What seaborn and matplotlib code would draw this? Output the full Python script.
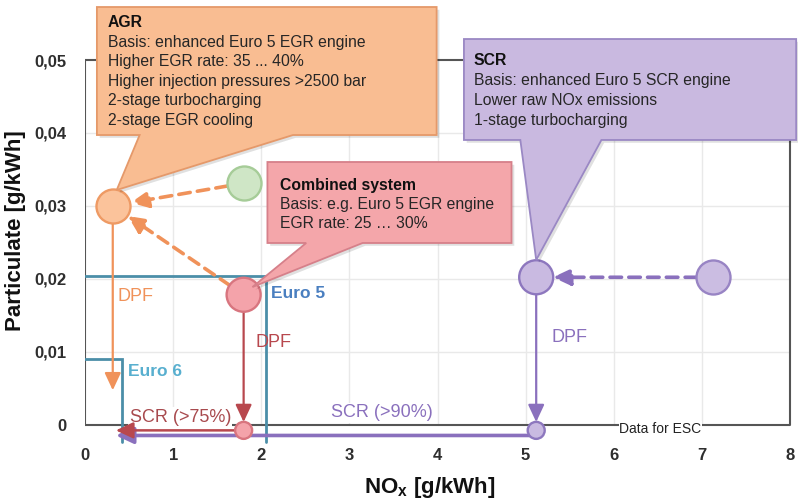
import matplotlib
matplotlib.use("Agg")
import matplotlib.pyplot as plt
import matplotlib.transforms as mtransforms
from matplotlib.patches import Polygon
import pandas as pd
import seaborn as sns

# Operating points: NOx and particulate emissions in g/kWh (ESC)
stage = ["Euro 5 EGR", "AGR", "Combined system", "Combined + DPF + SCR",
         "Euro 5 SCR", "SCR", "SCR + DPF"]
group = ["egr_base", "agr", "combined", "combined", "scr_base", "scr", "scr"]
nox = [1.80, 0.315, 1.80, 1.80, 7.13, 5.12, 5.12]
pm = [0.0331, 0.0300, 0.0178, -0.0008, 0.0202, 0.0202, -0.0008]
dot = ["large", "large", "large", "small", "large", "large", "small"]

# Emission limits
limit_names = ["Euro 5", "Euro 6"]
limit_nox = [2.05, 0.42]
limit_pm = [0.0204, 0.0090]

# Aftertreatment end points
agr_dpf_pm = 0.0047
scr_target_nox = 0.35
scr_path_pm = [-0.0008, -0.0015]   # SCR (>75%) and SCR (>90%) paths

# Axis ticks
x_ticks = [0, 1, 2, 3, 4, 5, 6, 7, 8]
y_ticks = [0, 0.01, 0.02, 0.03, 0.04, 0.05]
y_tick_labels = ["0", "0,01", "0,02", "0,03", "0,04", "0,05"]

fill = {"egr_base": "#cfe6c6", "agr": "#fbc39b", "combined": "#f4a3aa",
        "scr_base": "#cbbde2", "scr": "#c9bae1"}
edge = {"egr_base": "#a6cc98", "agr": "#ee9a64", "combined": "#d8757f",
        "scr_base": "#9884c4", "scr": "#8d77be"}
c_orange = "#f0925a"
c_red = "#b8484e"
c_purple = "#8a70bd"
c_limit = "#4b8ea8"

sns.set_theme(style="white")
plt.rcParams["font.family"] = ["Liberation Sans", "DejaVu Sans"]
plt.rcParams["mathtext.fontset"] = "custom"
plt.rcParams["mathtext.bf"] = "Liberation Sans:bold"
plt.rcParams["mathtext.rm"] = "Liberation Sans"

df = pd.DataFrame({"stage": stage, "group": group, "nox": nox, "pm": pm, "dot": dot})

fig = plt.figure(figsize=(7.98, 5.01), dpi=100)
ax = fig.add_axes([85 / 798, 57 / 501, 705 / 798, 444 / 501])

for g, sub in df.groupby("group", sort=False):
    sns.scatterplot(data=sub, x="nox", y="pm", size="dot",
                    sizes={"large": 600, "small": 150},
                    color=fill[g], edgecolor=edge[g], linewidth=1.7,
                    legend=False, ax=ax, zorder=4)

ax.set_xlim(0, 8)
ax.set_ylim(-0.00267, 0.05823)
for sp in ax.spines.values():
    sp.set_visible(False)
ax.set_xlabel("")
ax.set_ylabel("")
ax.set_xticks(x_ticks)
ax.set_yticks(y_ticks)
ax.set_yticklabels(y_tick_labels)
ax.tick_params(length=0, labelsize=12, labelcolor="#2e2e2e")
ax.tick_params(axis="x", pad=3)
ax.tick_params(axis="y", pad=13)
for lbl in ax.get_xticklabels() + ax.get_yticklabels():
    lbl.set_fontweight("bold")

# light grid inside the diagram frame
for xv in x_ticks[1:-1]:
    ax.plot([xv, xv], [0, y_ticks[-1]], color="#e9e9e9", lw=1, zorder=0)
for yv in y_ticks[1:-1]:
    ax.plot([0, x_ticks[-1]], [yv, yv], color="#e9e9e9", lw=1, zorder=0)

# diagram frame
fc = "#555555"
ax.plot([0, 0], [0, y_ticks[-1]], color=fc, lw=1.5, zorder=1)
ax.plot([-0.04, x_ticks[-1]], [y_ticks[-1], y_ticks[-1]], color=fc, lw=1.5, zorder=1)
ax.plot([x_ticks[-1], x_ticks[-1]], [0, y_ticks[-1]], color=fc, lw=1.5, zorder=1, clip_on=False)
ax.plot([0, x_ticks[-1]], [0, 0], color=fc, lw=1.5, zorder=1)

# emission limit boxes
for nm, lx, ly in zip(limit_names, limit_nox, limit_pm):
    ax.plot([0, lx, lx], [ly, ly, -0.0024], color=c_limit, lw=2, zorder=2,
            solid_joinstyle="miter")


def arrow(p0, p1, color, lw, sA, sB, dashed=False, hl=0.75, hw=0.35):
    ls = (0, (3.2, 2.0)) if dashed else "-"
    ax.annotate("", xy=p1, xytext=p0, zorder=3,
                arrowprops=dict(arrowstyle=f"-|>,head_length={hl},head_width={hw}",
                                color=color, lw=lw, linestyle=ls,
                                shrinkA=sA, shrinkB=sB, mutation_scale=14))


i_egr, i_agr, i_comb, i_comb2, i_scrb, i_scr, i_scr2 = range(7)
# raw engine -> optimised engine (dashed)
arrow((nox[i_egr], pm[i_egr]), (nox[i_agr], pm[i_agr]), c_orange, 2.6, 12, 13, dashed=True)
arrow((nox[i_comb], pm[i_comb]), (nox[i_agr], pm[i_agr]), c_orange, 2.6, 12, 13, dashed=True)
arrow((nox[i_scrb], pm[i_scrb]), (nox[i_scr], pm[i_scr]), c_purple, 2.6, 12, 12, dashed=True)
# DPF steps
arrow((nox[i_agr], pm[i_agr]), (nox[i_agr], agr_dpf_pm), c_orange, 1.6, 12, 0)
arrow((nox[i_comb], pm[i_comb]), (nox[i_comb2], pm[i_comb2]), c_red, 1.6, 12, 6)
arrow((nox[i_scr], pm[i_scr]), (nox[i_scr2], pm[i_scr2]), c_purple, 1.6, 11, 6)
# SCR steps
arrow((nox[i_scr2], scr_path_pm[1]), (scr_target_nox, scr_path_pm[1]), c_purple, 2.6, 4, 0)
arrow((nox[i_comb2], scr_path_pm[0]), (scr_target_nox, scr_path_pm[0]), c_red, 1.8, 6, 0)

# labels along the paths
ax.text(0.372, 0.0175, "DPF", color=c_orange, fontsize=13, va="center", zorder=5)
ax.text(1.938, 0.0113, "DPF", color=c_red, fontsize=13, va="center", zorder=5)
ax.text(5.296, 0.0120, "DPF", color=c_purple, fontsize=13, va="center", zorder=5)
ax.text(2.107, 0.0180, limit_names[0], color="#4a7fc0", fontsize=12.5,
        fontweight="bold", va="center", zorder=5)
ax.text(0.485, 0.0073, limit_names[1], color="#58afcf", fontsize=12.5,
        fontweight="bold", va="center", zorder=5)
wb = dict(facecolor="white", edgecolor="none", pad=1.0)
ax.text(0.507, 0.0010, "SCR (>75%)", color="#a84a4e", fontsize=13, va="center",
        zorder=2.5, bbox=wb)
ax.text(2.794, 0.0016, "SCR (>90%)", color=c_purple, fontsize=13, va="center",
        zorder=2.5, bbox=wb)
ax.text(6.53, -0.0006, "Data for ESC", color="#222222", fontsize=10, ha="center",
        va="center", zorder=2.5, bbox=dict(facecolor="white", edgecolor="none", pad=0.5))

shadow_tr = mtransforms.offset_copy(ax.transData, fig=fig, x=2.0, y=-2.0, units="points")


def callout(x0, x1, y_bot, y_top, base_l, base_r, tip, face, edgec):
    verts = [(x0, y_top), (x1, y_top), (x1, y_bot), (base_r, y_bot), tip,
             (base_l, y_bot), (x0, y_bot)]
    ax.add_patch(Polygon(verts, closed=True, facecolor="#000000", edgecolor="none",
                         alpha=0.12, zorder=5.9, clip_on=False, transform=shadow_tr))
    ax.add_patch(Polygon(verts, closed=True, facecolor=face, edgecolor=edgec,
                         lw=1.3, zorder=6, clip_on=False, joinstyle="miter"))


def box_text(x, y, title, lines, step):
    ax.text(x, y, title, fontsize=11.3, fontweight="bold", color="#111111",
            va="center", zorder=7)
    for k, line in enumerate(lines, start=1):
        tr = mtransforms.offset_copy(ax.transData, fig=fig, y=-k * step, units="points")
        ax.text(x, y, line, fontsize=11.3, color="#262626", va="center",
                transform=tr, zorder=7)


callout(0.135, 3.99, 0.03971, 0.05727, 0.62, 2.36, (0.36, 0.03217),
        "#f9bd92", "#e5996a")
box_text(0.26, 0.05508, "AGR",
         ["Basis: enhanced Euro 5 EGR engine", "Higher EGR rate: 35 ... 40%",
          "Higher injection pressures >2500 bar", "2-stage turbocharging",
          "2-stage EGR cooling"], 14.0)

callout(4.30, 8.07, 0.03903, 0.05288, 4.94, 5.86, (5.12, 0.02257),
        "#c9b9e0", "#9a88c4")
box_text(4.41, 0.0500, "SCR",
         ["Basis: enhanced Euro 5 SCR engine", "Lower raw NOx emissions",
          "1-stage turbocharging"], 14.4)

callout(2.07, 4.84, 0.0249, 0.03601, 2.51, 3.15, (1.90, 0.01886),
        "#f4a6aa", "#d6808a")
box_text(2.21, 0.03285, "Combined system",
         ["Basis: e.g. Euro 5 EGR engine", "EGR rate: 25 \u2026 30%"], 14.0)

# axis titles
fig.text(16 / 798, 1 - 231 / 501, "Particulate [g/kWh]", rotation=90, ha="center",
         va="center", fontsize=16, fontweight="bold", color="#111111")
fig.text(430 / 798, 1 - 488 / 501, r"NO$_\mathbf{x}$ [g/kWh]", ha="center",
         va="center", fontsize=16, fontweight="bold", color="#111111")

fig.savefig("out.png", dpi=100)
